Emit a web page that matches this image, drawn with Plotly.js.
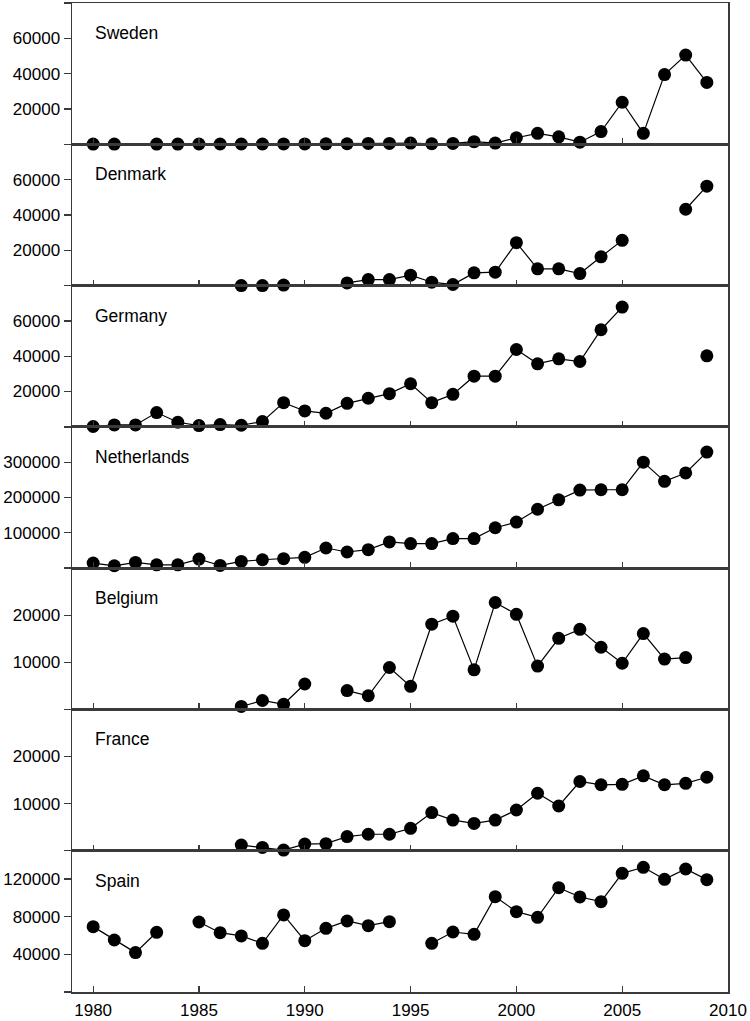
<!DOCTYPE html>
<html>
<head>
<meta charset="utf-8">
<script src="https://cdn.plot.ly/plotly-3.0.1.min.js"></script>
<style>html,body{margin:0;padding:0;background:#fff;}#chart{width:750px;height:1021px;}</style>
</head>
<body>
<div id="chart"></div>
<script>
// Years 1980..2009
const years = [1980,1981,1982,1983,1984,1985,1986,1987,1988,1989,1990,1991,1992,1993,1994,1995,1996,1997,1998,1999,2000,2001,2002,2003,2004,2005,2006,2007,2008,2009];

const countries = ["Sweden","Denmark","Germany","Netherlands","Belgium","France","Spain"];

const sweden = [100,100,null,100,100,150,150,150,150,200,200,250,300,500,500,700,300,500,1500,700,3700,6200,4200,1200,7200,23800,6200,39500,50500,35000];
const denmark = [null,null,null,null,null,null,null,0,0,300,null,null,1500,3400,3400,5900,1900,600,7200,7600,24300,9500,9500,6800,16300,25600,null,null,43200,56300];
const germany = [200,1100,1100,8100,2600,750,1300,900,3000,13700,9000,7700,13300,16200,18800,24400,13700,18400,28700,28700,43800,35700,38500,37000,55000,67800,null,null,null,40200];
const netherlands = [14300,6700,16200,9500,9500,25700,7600,19000,23800,26700,30500,57000,45700,52400,74300,69500,69500,83800,83800,114300,130500,166700,193300,221000,222000,222000,300000,245700,269500,328600];
const belgium = [null,null,null,null,null,null,null,630,1900,1100,5400,null,4000,2900,8900,4900,18100,19800,8400,22700,20200,9200,15100,17000,13200,9800,16100,10700,11000,null];
const france = [null,null,null,null,null,null,null,1200,700,140,1400,1500,3000,3500,3500,4750,8100,6500,5800,6500,8650,12200,9500,14700,14000,14100,15900,14000,14300,15600];
const spain = [69400,55200,41800,63400,null,74300,63000,59500,51700,81800,54500,67600,75400,70400,74700,null,51700,63700,61200,101200,85300,79300,110800,100900,95900,126000,132400,119600,130600,119300];

const seriesList = [sweden, denmark, germany, netherlands, belgium, france, spain];

// y tick values per panel (labels shown only for inner values)
const yTickVals = [
  [0,20000,40000,60000,80000],
  [0,20000,40000,60000,80000],
  [0,20000,40000,60000,80000],
  [0,100000,200000,300000,400000],
  [0,10000,20000,30000],
  [0,10000,20000,30000],
  [0,40000,80000,120000,150000]
];
const yRanges = [[0,80000],[0,80000],[0,80000],[0,400000],[0,30000],[0,30000],[0,150000]];
const xTickVals = [1980,1985,1990,1995,2000,2005,2010];

const lineCol = '#3a3a3a';
const fontFam = 'Liberation Sans, Arial, Helvetica, sans-serif';
const n = countries.length;

const traces = [];
const layout = {
  width: 750, height: 1021,
  margin: {l: 72, r: 22, t: 3, b: 29},
  paper_bgcolor: '#fff', plot_bgcolor: '#fff',
  showlegend: false,
  font: {family: fontFam, color: '#000', size: 17},
  annotations: []
};

for (let i = 0; i < n; i++) {
  const k = i + 1;
  const xa = k === 1 ? 'x' : 'x' + k;
  const ya = k === 1 ? 'y' : 'y' + k;
  traces.push({
    type: 'scatter', mode: 'lines+markers',
    x: years, y: seriesList[i],
    xaxis: xa, yaxis: ya,
    connectgaps: false, cliponaxis: false,
    line: {color: '#000', width: 1.2},
    marker: {color: '#000', size: 13},
    hoverinfo: 'skip'
  });
  const d0 = (n - 1 - i) / n, d1 = (n - i) / n;
  const isBottom = (i === n - 1);
  const xax = {
    anchor: ya, domain: [0, 1], range: [1979, 2010],
    tickvals: xTickVals, ticks: 'inside', ticklen: 6, tickwidth: 1.3, tickcolor: lineCol,
    showticklabels: isBottom, ticklabelstandoff: isBottom ? 2 : 0,
    tickfont: {family: fontFam, size: 17, color: '#000'},
    showline: true, linecolor: lineCol, linewidth: 1.5, mirror: true,
    showgrid: false, zeroline: false, fixedrange: true
  };
  if (k !== 1) xax.matches = 'x';
  layout[k === 1 ? 'xaxis' : 'xaxis' + k] = xax;
  const tv = yTickVals[i];
  const tt = tv.map((v, j) => (j === 0 || j === tv.length - 1) ? '' : String(v));
  layout[k === 1 ? 'yaxis' : 'yaxis' + k] = {
    anchor: xa, domain: [d0, d1], range: yRanges[i],
    tickvals: tv, ticktext: tt, ticks: 'outside', ticklen: 7, tickwidth: 1.3, tickcolor: lineCol,
    tickfont: {family: fontFam, size: 17, color: '#000'},
    showline: true, linecolor: lineCol, linewidth: 1.5, mirror: true,
    showgrid: false, zeroline: false, fixedrange: true
  };
  layout.annotations.push({
    text: countries[i], xref: xa, yref: ya + ' domain',
    x: 1980, y: 1 - 30 / 141, xanchor: 'left', yanchor: 'middle',
    showarrow: false, font: {family: fontFam, size: 17.5, color: '#000'}
  });
}

Plotly.newPlot('chart', traces, layout, {staticPlot: true, displayModeBar: false});
</script>
</body>
</html>
